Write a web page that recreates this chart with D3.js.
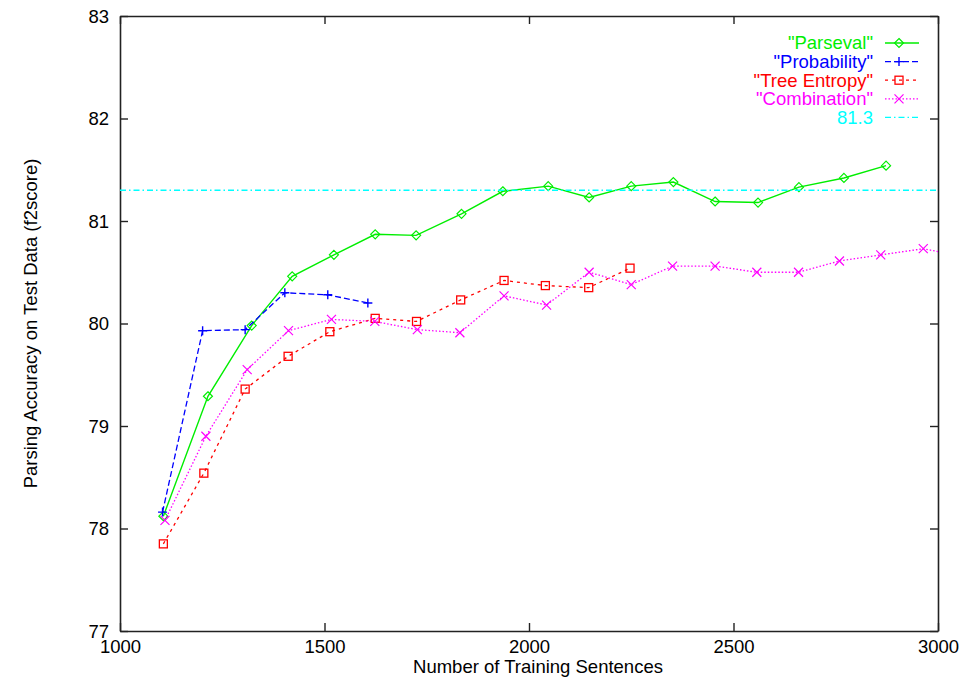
<!DOCTYPE html>
<html>
<head>
<meta charset="utf-8">
<script src="https://cdn.jsdelivr.net/npm/d3@7/dist/d3.min.js"></script>
<style>
  html, body { margin: 0; padding: 0; background: #fff; }
  svg { display: block; font-family: "Liberation Sans", Arial, sans-serif; }
</style>
</head>
<body>
<svg id="chart" width="961" height="680"></svg>
<script>
// Learning curves: parsing accuracy vs. number of training sentences
const parsevalX = [1106, 1215, 1322, 1421, 1523, 1624, 1724, 1835, 1936, 2047, 2147, 2250, 2353, 2455, 2560, 2660, 2770, 2873];
const parsevalY = [78.12, 79.29, 79.98, 80.46, 80.67, 80.87, 80.86, 81.07, 81.29, 81.34, 81.23, 81.34, 81.38, 81.19, 81.18, 81.33, 81.42, 81.54];

const probabilityX = [1104, 1202, 1306, 1403, 1508, 1606];
const probabilityY = [78.16, 79.93, 79.94, 80.30, 80.28, 80.20];

const treeEntropyX = [1106, 1205, 1306, 1411, 1513, 1624, 1725, 1833, 1939, 2040, 2146, 2247];
const treeEntropyY = [77.85, 78.54, 79.36, 79.68, 79.92, 80.05, 80.02, 80.23, 80.42, 80.37, 80.35, 80.54];

const combinationX = [1110, 1210, 1311, 1412, 1517, 1623, 1727, 1831, 1939, 2043, 2147, 2250, 2351, 2455, 2557, 2659, 2759, 2860, 2964, 3075];
const combinationY = [78.08, 78.90, 79.55, 79.93, 80.04, 80.02, 79.94, 79.91, 80.27, 80.18, 80.50, 80.38, 80.56, 80.56, 80.50, 80.50, 80.61, 80.67, 80.73, 80.64];

const baselineValue = 81.3;

const xTicks = [1000, 1500, 2000, 2500, 3000];
const yTicks = [77, 78, 79, 80, 81, 82, 83];

const svg = d3.select("#chart");
const W = 961, H = 680;
const margin = { left: 120, right: 23, top: 16, bottom: 49 };
const plotW = W - margin.left - margin.right;
const plotH = H - margin.top - margin.bottom;

const x = d3.scaleLinear().domain([1000, 3000]).range([margin.left, margin.left + plotW]);
const y = d3.scaleLinear().domain([77, 83]).range([margin.top + plotH, margin.top]);

svg.append("defs").append("clipPath").attr("id", "plotClip")
  .append("rect").attr("x", margin.left).attr("y", margin.top)
  .attr("width", plotW).attr("height", plotH);

const fontSize = 18.5;
const axisColor = "#222";
const tickLen = 8;

// Axes: ticks drawn inward on all four sides (gnuplot style)
const axisLeftG = svg.append("g").attr("transform", `translate(${margin.left},0)`)
  .call(d3.axisLeft(y).tickValues(yTicks).tickFormat(d3.format("d")).tickSizeInner(-tickLen).tickSizeOuter(0).tickPadding(11));
const axisRightG = svg.append("g").attr("transform", `translate(${margin.left + plotW},0)`)
  .call(d3.axisRight(y).tickValues(yTicks).tickFormat("").tickSizeInner(-tickLen).tickSizeOuter(0));
const axisBottomG = svg.append("g").attr("transform", `translate(0,${margin.top + plotH})`)
  .call(d3.axisBottom(x).tickValues(xTicks).tickFormat(d3.format("d")).tickSizeInner(-tickLen).tickSizeOuter(0).tickPadding(9));
const axisTopG = svg.append("g").attr("transform", `translate(0,${margin.top})`)
  .call(d3.axisTop(x).tickValues(xTicks).tickFormat("").tickSizeInner(-tickLen).tickSizeOuter(0));

[axisLeftG, axisRightG, axisBottomG, axisTopG].forEach(g => {
  g.select(".domain").attr("stroke", axisColor).attr("stroke-width", 1.6);
  g.selectAll(".tick line").attr("stroke", axisColor).attr("stroke-width", 1.4);
  g.selectAll(".tick text").attr("fill", "#000").style("font-size", fontSize + "px")
    .style("font-family", "'Liberation Sans', Arial, sans-serif");
});
axisLeftG.selectAll(".tick text").attr("dy", "0.35em");

// Axis titles
svg.append("text")
  .attr("x", margin.left + plotW / 2 + 9).attr("y", H - 7)
  .attr("text-anchor", "middle").style("font-size", fontSize + "px").attr("fill", "#000")
  .text("Number of Training Sentences");
svg.append("text")
  .attr("transform", `translate(37,${margin.top + plotH / 2}) rotate(-90)`)
  .attr("text-anchor", "middle").style("font-size", fontSize + "px").attr("fill", "#000")
  .text("Parsing Accuracy on Test Data (f2score)");

// Marker shapes
function marker(g, type, cx, cy, color) {
  const s = 4.5;
  if (type === "diamond") {
    g.append("path").attr("d", `M${cx},${cy - s}L${cx + s},${cy}L${cx},${cy + s}L${cx - s},${cy}Z`)
      .attr("fill", "none").attr("stroke", color).attr("stroke-width", 1.2);
  } else if (type === "plus") {
    g.append("path").attr("d", `M${cx - s},${cy}H${cx + s}M${cx},${cy - s}V${cy + s}`)
      .attr("fill", "none").attr("stroke", color).attr("stroke-width", 1.4);
  } else if (type === "square") {
    g.append("rect").attr("x", cx - 4).attr("y", cy - 4).attr("width", 8).attr("height", 8)
      .attr("fill", "none").attr("stroke", color).attr("stroke-width", 1.3);
  } else if (type === "cross") {
    g.append("path").attr("d", `M${cx - s},${cy - s}L${cx + s},${cy + s}M${cx - s},${cy + s}L${cx + s},${cy - s}`)
      .attr("fill", "none").attr("stroke", color).attr("stroke-width", 1.2);
  }
}

const series = [
  { name: "\"Parseval\"", xs: parsevalX, ys: parsevalY, color: "#00ee00", dash: null, width: 1.4, mark: "diamond" },
  { name: "\"Probability\"", xs: probabilityX, ys: probabilityY, color: "#0000ff", dash: "6,3", width: 1.3, mark: "plus" },
  { name: "\"Tree Entropy\"", xs: treeEntropyX, ys: treeEntropyY, color: "#ff0000", dash: "3,4", width: 1.3, mark: "square" },
  { name: "\"Combination\"", xs: combinationX, ys: combinationY, color: "#ff00ff", dash: "1.5,2", width: 1.3, mark: "cross" }
];

const plot = svg.append("g").attr("clip-path", "url(#plotClip)");
const line = d3.line().x(d => x(d[0])).y(d => y(d[1]));

series.forEach(s => {
  const pts = s.xs.map((v, i) => [v, s.ys[i]]);
  plot.append("path").datum(pts).attr("d", line)
    .attr("fill", "none").attr("stroke", s.color).attr("stroke-width", s.width)
    .attr("stroke-dasharray", s.dash);
  const mg = plot.append("g");
  pts.forEach(p => marker(mg, s.mark, x(p[0]), y(p[1]), s.color));
});

// Constant reference line
plot.append("line")
  .attr("x1", x(1000)).attr("x2", x(3000)).attr("y1", y(baselineValue)).attr("y2", y(baselineValue))
  .attr("stroke", "#00ffff").attr("stroke-width", 1.3).attr("stroke-dasharray", "6,3,1.5,3");

// Legend
const legendItems = series.concat([{ name: String(baselineValue), color: "#00ffff", dash: "6,3,1.5,3", width: 1.3, mark: null }]);
const lg = svg.append("g");
const textRight = 873, lineX1 = 885, lineX2 = 919, rowY0 = 43, rowStep = 18.6;
legendItems.forEach((s, i) => {
  const ry = rowY0 + i * rowStep;
  lg.append("text").attr("x", textRight).attr("y", ry).attr("dy", "0.35em")
    .attr("text-anchor", "end").style("font-size", fontSize + "px").attr("fill", s.color)
    .text(s.name);
  lg.append("line").attr("x1", lineX1).attr("x2", lineX2).attr("y1", ry).attr("y2", ry)
    .attr("stroke", s.color).attr("stroke-width", s.width).attr("stroke-dasharray", s.dash);
  if (s.mark) marker(lg, s.mark, (lineX1 + lineX2) / 2 - 3, ry, s.color);
});
</script>
</body>
</html>
